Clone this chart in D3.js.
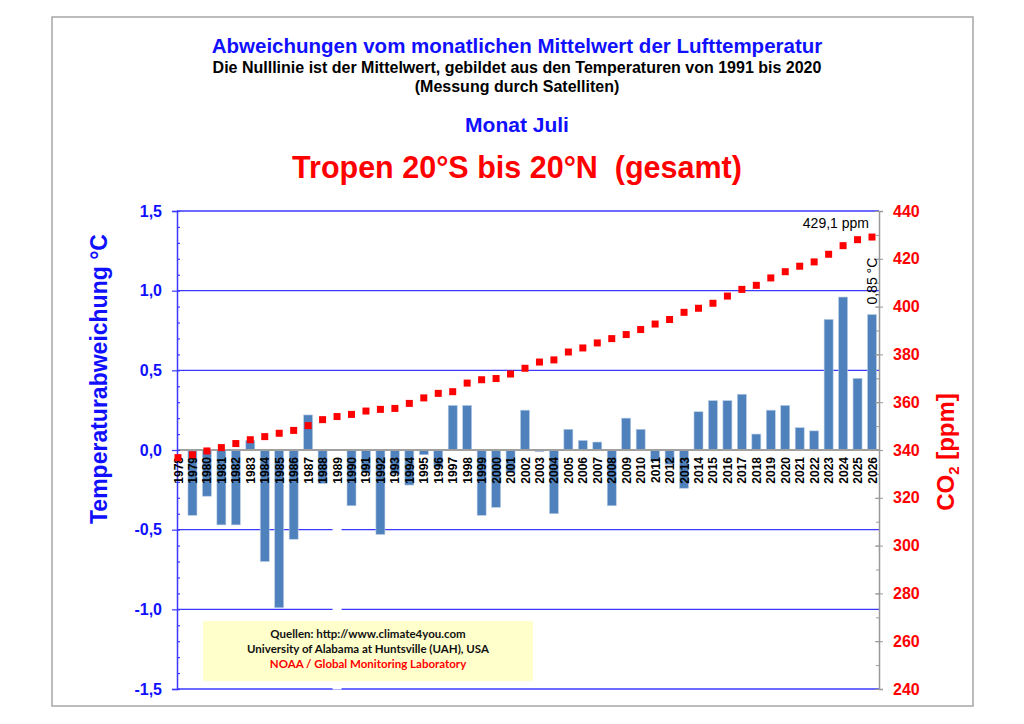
<!DOCTYPE html>
<html>
<head>
<meta charset="utf-8">
<script src="https://cdn.jsdelivr.net/npm/d3@7"></script>
<style>
  body { margin: 0; background: #fff; }
  svg { display: block; font-family: Arial, "Liberation Sans", sans-serif; }
</style>
</head>
<body>
<div id="chart"></div>
<script>
// Years (categories)
var years = d3.range(1978, 2027);

// Temperature anomaly July, tropics (°C), null = no bar
var anomalies = [
  null, -0.41, -0.29, -0.47, -0.47, 0.06, -0.70, -0.99, -0.56, 0.22,
  -0.21, null, -0.35, -0.14, -0.53, -0.15, -0.22, -0.03, -0.11, 0.28,
  0.28, -0.41, -0.36, -0.14, 0.25, -0.01, -0.40, 0.13, 0.06, 0.05,
  -0.35, 0.20, 0.13, -0.07, -0.09, -0.24, 0.24, 0.31, 0.31, 0.35,
  0.10, 0.25, 0.28, 0.14, 0.12, 0.82, 0.96, 0.45, 0.85
];

// CO2 (ppm)
var co2 = [
  336.8, 338.0, 339.6, 341.0, 342.7, 344.3, 345.6, 347.0, 348.2, 350.2,
  352.7, 354.0, 354.9, 356.3, 357.0, 357.4, 359.5, 361.8, 363.7, 364.4,
  368.0, 369.4, 369.9, 371.8, 374.2, 376.8, 377.7, 381.0, 382.7, 384.8,
  386.6, 388.3, 390.4, 392.7, 394.6, 397.6, 399.3, 401.4, 404.4, 407.2,
  408.9, 412.0, 414.6, 416.9, 418.7, 421.9, 425.5, 428.0, 429.1
];

// Years with a blank column in the source chart
var gapYears = [1989];

// Axis ticks
var tempTicks = [-1.5, -1.0, -0.5, 0.0, 0.5, 1.0, 1.5];
var co2Ticks = [240, 260, 280, 300, 320, 340, 360, 380, 400, 420, 440];

// Titles
var titleLines = [
  { text: 'Abweichungen vom monatlichen Mittelwert der Lufttemperatur', y: 53, size: 20.5, color: '#1010ff' },
  { text: 'Die Nulllinie ist der Mittelwert, gebildet aus den Temperaturen von 1991 bis 2020', y: 73, size: 16, color: '#000' },
  { text: '(Messung durch Satelliten)', y: 92, size: 16, color: '#000' },
  { text: 'Monat Juli', y: 132, size: 21, color: '#1010ff' },
  { text: 'Tropen 20°S bis 20°N  (gesamt)', y: 178, size: 30.5, color: '#ff0000' }
];
var sourceLines = [
  { text: 'Quellen: http://www.climate4you.com', color: '#111' },
  { text: 'University of Alabama at Huntsville (UAH), USA', color: '#111' },
  { text: 'NOAA / Global Monitoring Laboratory', color: '#ff0000' }
];

var width = 1024, height = 724;
var plot = { left: 177, right: 879, top: 211, bottom: 689 };
var gridColor = '#3a3aff';

var svg = d3.select('#chart').append('svg')
  .attr('width', width)
  .attr('height', height);

// Scales
var x = d3.scaleLinear().domain([1978, 2026]).range([178, 872]);
var y = d3.scaleLinear().domain([-1.5, 1.5]).range([plot.bottom, plot.top]);
var yCo2 = d3.scaleLinear().domain([240, 440]).range([plot.bottom, plot.top]);
var barWidth = 9;

// Outer frame
svg.append('rect')
  .attr('x', 52).attr('y', 17)
  .attr('width', 921).attr('height', 689)
  .attr('fill', 'none')
  .attr('stroke', '#a6a6a6')
  .attr('stroke-width', 1.5);

// Titles
svg.selectAll('.title')
  .data(titleLines)
  .enter().append('text')
  .attr('class', 'title')
  .attr('x', 517)
  .attr('y', function(d) { return d.y; })
  .attr('text-anchor', 'middle')
  .attr('font-weight', 'bold')
  .attr('font-size', function(d) { return d.size; })
  .attr('fill', function(d) { return d.color; })
  .style('white-space', 'pre')
  .text(function(d) { return d.text; });

// Grid lines (not the zero line)
svg.append('g')
  .selectAll('line')
  .data(tempTicks.filter(function(d) { return d !== 0; }))
  .enter().append('line')
  .attr('x1', plot.left).attr('x2', plot.right)
  .attr('y1', function(d) { return y(d); })
  .attr('y2', function(d) { return y(d); })
  .attr('stroke', gridColor)
  .attr('stroke-width', 1.3);

// Bars
var barData = years.map(function(yr, i) { return { year: yr, value: anomalies[i], co2: co2[i] }; });
svg.append('g')
  .selectAll('rect')
  .data(barData.filter(function(d) { return d.value !== null; }))
  .enter().append('rect')
  .attr('x', function(d) { return x(d.year) - barWidth / 2; })
  .attr('y', function(d) { return y(Math.max(0, d.value)); })
  .attr('width', barWidth)
  .attr('height', function(d) { return Math.abs(y(d.value) - y(0)); })
  .attr('fill', '#4f81bd')
  .attr('stroke', '#b9cde5')
  .attr('stroke-width', 0.6);

// Blank columns cut the grid lines
svg.append('g')
  .selectAll('rect')
  .data(gapYears)
  .enter().append('rect')
  .attr('x', function(d) { return x(d) - barWidth / 2; })
  .attr('y', y(0) + 1)
  .attr('width', barWidth)
  .attr('height', y(-1.5) - y(0) - 0.5)
  .attr('fill', '#fff');

// Source box
var box = svg.append('g');
box.append('rect')
  .attr('x', 203).attr('y', 621)
  .attr('width', 330).attr('height', 60)
  .attr('fill', '#ffffcc');
box.selectAll('text')
  .data(sourceLines)
  .enter().append('text')
  .attr('x', 368)
  .attr('y', function(d, i) { return 638 + i * 15; })
  .attr('text-anchor', 'middle')
  .attr('font-family', 'Lato, "Open Sans", sans-serif')
  .attr('font-weight', 'bold')
  .attr('font-size', 11.5)
  .attr('fill', function(d) { return d.color; })
  .text(function(d) { return d.text; });

// Zero line
svg.append('line')
  .attr('x1', plot.left).attr('x2', plot.right)
  .attr('y1', y(0)).attr('y2', y(0))
  .attr('stroke', '#a0a0a0')
  .attr('stroke-width', 2);

// Left axis, minor ticks
var leftAxis = svg.append('g').attr('transform', 'translate(' + plot.left + ',0)');
leftAxis.call(d3.axisLeft(y).tickValues(d3.range(-15, 16).map(function(d) { return d / 10; }))
  .tickSize(-3).tickFormat(''));
leftAxis.call(function(g) {
  g.select('.domain').remove();
  g.selectAll('.tick line').attr('stroke', gridColor).attr('stroke-width', 1.2);
});

// Left axis, major ticks and labels
var leftMajor = svg.append('g').attr('transform', 'translate(' + plot.left + ',0)')
  .call(d3.axisLeft(y).tickValues(tempTicks).tickSize(5).tickPadding(10)
    .tickFormat(function(d) { return d3.format('.1f')(d).replace('.', ',').replace('−', '-'); }));
leftMajor.select('.domain').attr('stroke', gridColor).attr('stroke-width', 1.5);
leftMajor.selectAll('.tick line').attr('stroke', gridColor).attr('stroke-width', 1.2);
leftMajor.selectAll('.tick text')
  .attr('fill', '#1010ff')
  .attr('font-size', 16)
  .attr('font-weight', 'bold')
  .attr('font-family', 'Arial, "Liberation Sans", sans-serif');

// Right axis
var rightMinor = svg.append('g').attr('transform', 'translate(' + plot.right + ',0)')
  .call(d3.axisRight(yCo2).tickValues(d3.range(240, 441, 10)).tickSize(-3).tickFormat(''));
rightMinor.select('.domain').remove();
rightMinor.selectAll('.tick line').attr('stroke', '#999');
var rightMajor = svg.append('g').attr('transform', 'translate(' + plot.right + ',0)')
  .call(d3.axisRight(yCo2).tickValues(co2Ticks).tickSize(4).tickPadding(10));
rightMajor.select('.domain').attr('stroke', '#999').attr('stroke-width', 1.5);
rightMajor.selectAll('.tick line').attr('stroke', '#999').attr('x1', -4);
rightMajor.selectAll('.tick text')
  .attr('fill', '#ff0000')
  .attr('font-size', 16)
  .attr('font-weight', 'bold')
  .attr('font-family', 'Arial, "Liberation Sans", sans-serif');

// Year labels
svg.append('g')
  .selectAll('text')
  .data(years)
  .enter().append('text')
  .attr('transform', function(d) { return 'translate(' + (x(d) + 4.5) + ',' + (y(0) + 7) + ') rotate(-90)'; })
  .attr('text-anchor', 'end')
  .attr('font-size', 12)
  .attr('font-weight', 'bold')
  .attr('fill', '#000')
  .text(function(d) { return d; });

// CO2 dots
svg.append('g')
  .selectAll('rect')
  .data(barData)
  .enter().append('rect')
  .attr('x', function(d) { return x(d.year) - 3.5; })
  .attr('y', function(d) { return yCo2(d.co2) - 3.5; })
  .attr('width', 7)
  .attr('height', 7)
  .attr('fill', '#ff0000');

// Last values
var last = barData[barData.length - 1];
svg.append('text')
  .attr('x', x(last.year) - 3)
  .attr('y', yCo2(last.co2) - 9)
  .attr('text-anchor', 'end')
  .attr('font-size', 14)
  .attr('fill', '#000')
  .text(d3.format('.1f')(last.co2).replace('.', ',') + ' ppm');
svg.append('text')
  .attr('transform', 'translate(' + (x(last.year) + 5) + ',' + (y(last.value) - 10) + ') rotate(-90)')
  .attr('font-size', 14)
  .attr('fill', '#000')
  .text(d3.format('.2f')(last.value).replace('.', ',') + ' °C');

// Axis titles
svg.append('text')
  .attr('transform', 'translate(107,379) rotate(-90)')
  .attr('text-anchor', 'middle')
  .attr('font-size', 23)
  .attr('font-weight', 'bold')
  .attr('fill', '#1010ff')
  .text('Temperaturabweichung °C');

var co2Title = svg.append('text')
  .attr('transform', 'translate(954,452) rotate(-90)')
  .attr('text-anchor', 'middle')
  .attr('font-size', 24)
  .attr('font-weight', 'bold')
  .attr('fill', '#ff0000');
co2Title.append('tspan').text('CO');
co2Title.append('tspan').attr('font-size', 15).attr('dy', 5).text('2');
co2Title.append('tspan').attr('dy', -5).text(' [ppm]');
</script>
</body>
</html>
